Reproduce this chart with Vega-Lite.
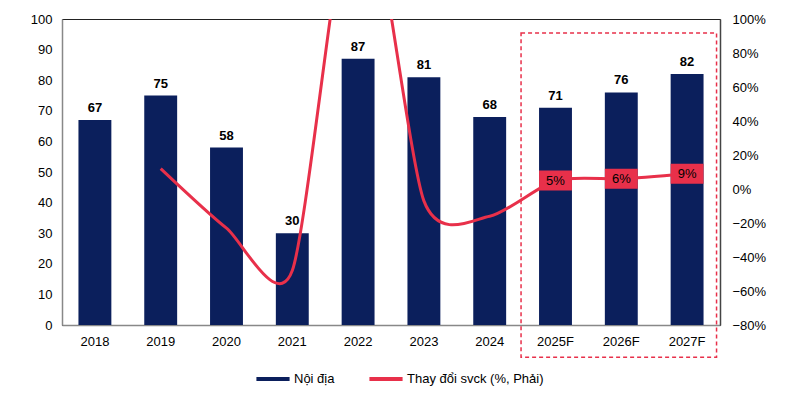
{
  "$schema": "https://vega.github.io/schema/vega-lite/v6.json",
  "width": 658,
  "height": 306,
  "autosize": "none",
  "padding": {"left": 62, "top": 19, "right": 80, "bottom": 74},
  "background": "white",
  "config": {
    "font": "Liberation Sans",
    "view": {"stroke": "#222", "strokeWidth": 1},
    "axis": {"labelFont": "Liberation Sans", "labelFontSize": 13, "labelColor": "#000", "grid": false, "ticks": false, "domainColor": "#888", "domainWidth": 1.5, "title": null, "labelOverlap": false, "labelBound": false, "labelFlush": false}
  },
  "data": {
    "values": [
      {"year": "2018", "value": 67, "pct": null, "lbl": null},
      {"year": "2019", "value": 75, "pct": 0.12, "lbl": null},
      {"year": "2020", "value": 58, "pct": -0.23, "lbl": null},
      {"year": "2021", "value": 30, "pct": -0.48, "lbl": null},
      {"year": "2022", "value": 87, "pct": 1.9, "lbl": null},
      {"year": "2023", "value": 81, "pct": -0.07, "lbl": null},
      {"year": "2024", "value": 68, "pct": -0.16, "lbl": null},
      {"year": "2025F", "value": 71, "pct": 0.05, "lbl": "5%"},
      {"year": "2026F", "value": 76, "pct": 0.06, "lbl": "6%"},
      {"year": "2027F", "value": 82, "pct": 0.09, "lbl": "9%"}
    ]
  },
  "encoding": {
    "x": {
      "field": "year", "type": "ordinal", "sort": null,
      "scale": {"paddingInner": 0.5, "paddingOuter": 0.25},
      "axis": {"labelAngle": 0, "labelPadding": 10, "domainColor": "#888"}
    }
  },
  "layer": [
    {
      "layer": [
        {
          "mark": {"type": "bar", "color": "#0b1f5c"},
          "encoding": {
            "y": {"field": "value", "type": "quantitative", "scale": {"domain": [0, 100]}, "axis": {"values": [0,10,20,30,40,50,60,70,80,90,100], "labelPadding": 10, "labelOverlap": false, "tickCount": 11}},
            "color": {"datum": "Nội địa", "type": "nominal", "scale": {"domain": ["Nội địa", "Thay đổi svck (%, Phải)"], "range": ["#0b1f5c", "#e8304a"]},
              "legend": {"orient": "none", "legendX": 192, "legendY": 341, "direction": "horizontal", "title": null, "symbolType": "stroke", "symbolSize": 1100, "symbolStrokeWidth": 4, "labelFontSize": 13, "labelColor": "#000", "labelFont": "Liberation Sans", "columnPadding": 26, "labelOffset": 2}}
          }
        },
        {
          "mark": {"type": "text", "fontWeight": "bold", "fontSize": 13, "dy": -12, "fill": "#000"},
          "encoding": {
            "y": {"field": "value", "type": "quantitative"},
            "text": {"field": "value", "type": "quantitative"}
          }
        },
        {
          "data": {"values": [{"a": "2025F", "b": "2027F", "top": 95.4, "bottom": -10.5}]},
          "mark": {"type": "rect", "fill": null, "filled": false, "stroke": "#e8304a", "strokeWidth": 1.5, "strokeDash": [4, 3], "clip": false, "xOffset": -18, "x2Offset": 13},
          "encoding": {
            "x": {"field": "a", "type": "ordinal", "bandPosition": 0},
            "x2": {"field": "b", "bandPosition": 1},
            "y": {"field": "top", "type": "quantitative"},
            "y2": {"field": "bottom"}
          }
        }
      ]
    },
    {
      "layer": [
        {
          "mark": {"type": "line", "interpolate": "cardinal", "tension": 0.3, "strokeWidth": 3, "clip": true, "color": "#e8304a"},
          "encoding": {
            "y": {"field": "pct", "type": "quantitative", "scale": {"domain": [-0.8, 1.0]}, "axis": {"orient": "right", "format": ".0%", "values": [-0.8,-0.6,-0.4,-0.2,0,0.2,0.4,0.6,0.8,1.0], "tickCount": 10, "labelOverlap": false, "labelPadding": 12, "domainColor": "#444"}},
            "color": {"datum": "Thay đổi svck (%, Phải)", "type": "nominal"}
          }
        },
        {
          "transform": [{"filter": "datum.lbl != null"}],
          "mark": {"type": "bar", "color": "#e8304a", "yOffset": -10, "y2Offset": 10},
          "encoding": {
            "y": {"field": "pct", "type": "quantitative"},
            "y2": {"field": "pct"}
          }
        }
      ]
    },
    {
      "transform": [{"filter": "datum.lbl != null"}],
      "mark": {"type": "text", "fontSize": 13, "fill": "#000000", "fillOpacity": 1},
      "encoding": {
        "y": {"field": "pct", "type": "quantitative", "scale": {"domain": [-0.8, 1.0]}, "axis": null},
        "text": {"field": "lbl", "type": "nominal"}
      }
    }
  ],
  "resolve": {"scale": {"y": "independent", "color": "shared"}}
}
